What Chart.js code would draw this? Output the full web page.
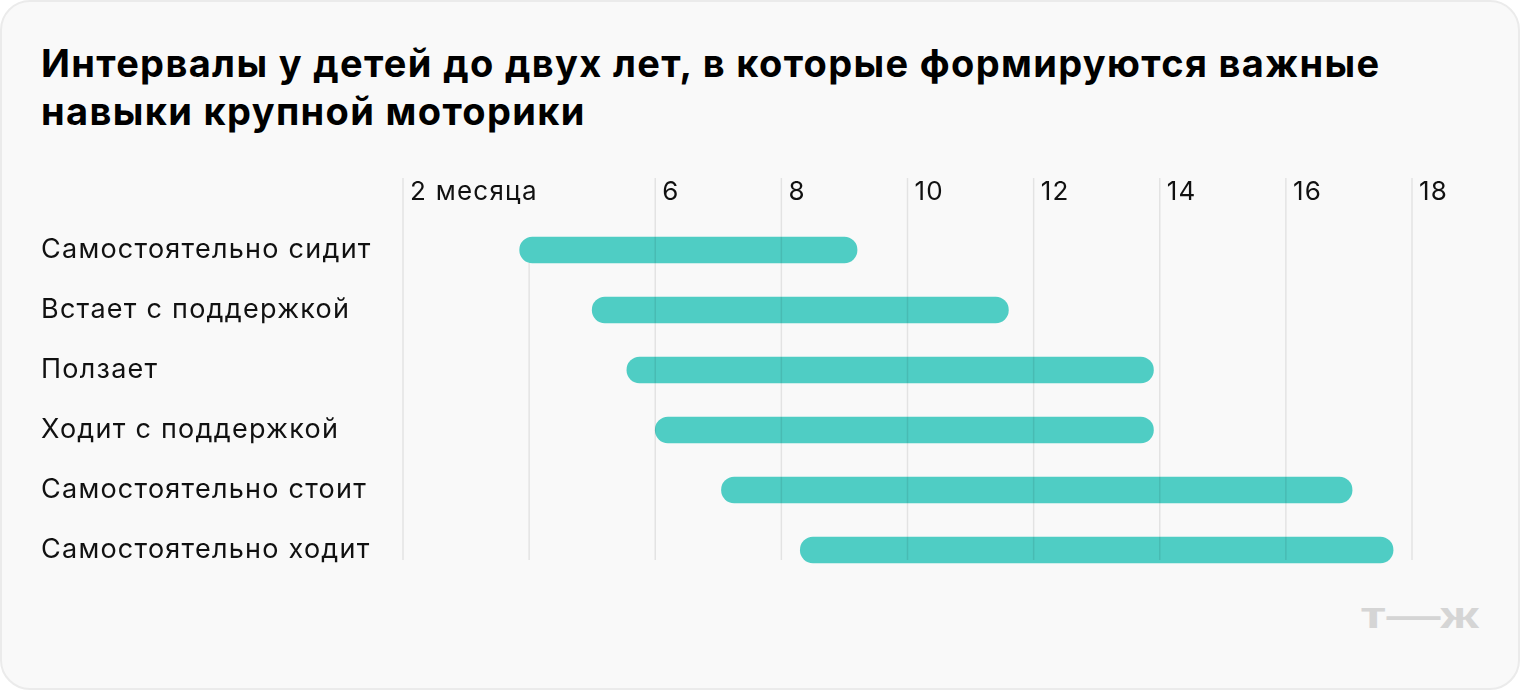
<!DOCTYPE html>
<html lang="ru">
<head>
<meta charset="utf-8">
<script src="https://cdn.jsdelivr.net/npm/chart.js@4.4.1/dist/chart.umd.min.js"></script>
<style>
  html, body { margin: 0; padding: 0; background: #fff; }
  body { width: 1520px; height: 690px; position: relative; overflow: hidden; font-family: Inter, 'Noto Sans', sans-serif; }
  .card {
    position: absolute; left: 0; top: 0; width: 1520px; height: 690px;
    box-sizing: border-box; border: 2px solid #ebebeb; border-radius: 30px; background: #f9f9f9;
  }
  .title {
    position: absolute; left: 41px; top: 39px; margin: 0; white-space: nowrap;
    font-size: 38px; line-height: 48px; font-weight: 700; color: #000; letter-spacing: 1.35px;
  }
  .logo {
    position: absolute; left: 1360px; top: 597px; font-size: 36px; line-height: 38px;
    font-weight: 800; color: #d5d5d5; transform: scaleX(1.5); transform-origin: left center;
    font-family: 'Liberation Sans', Arial, sans-serif;
  }
  #chart { position: absolute; left: 0; top: 0; }
</style>
</head>
<body>
<div class="card"></div>
<h1 class="title">Интервалы у детей до двух лет, в которые формируются важные<br>навыки крупной моторики</h1>
<div class="logo">т—ж</div>
<canvas id="chart" width="1520" height="690"></canvas>

<script>
// ===== DATA =====
const skills = [
  'Самостоятельно сидит',
  'Встает с поддержкой',
  'Ползает',
  'Ходит с поддержкой',
  'Самостоятельно стоит',
  'Самостоятельно ходит',
];
// age in months when the skill interval starts / ends
const startMonth = [3.85, 5.0, 5.55, 6.0, 7.05, 8.3];
const endMonth   = [9.2, 11.6, 13.9, 13.9, 17.05, 17.7];

const tickValues = [2, 4, 6, 8, 10, 12, 14, 16, 18];
const tickLabels = ['2 месяца', '', '6', '8', '10', '12', '14', '16', '18'];

// ===== STYLE =====
const TEAL = '#4fcdc4';
const TEXT = '#111';
const GRID = 'rgba(0,0,0,0.085)';
const FONT = 'Inter, "Noto Sans", sans-serif';

// wider tracking like the original typeface
const tracking = {
  id: 'tracking',
  beforeDraw(chart) { chart.ctx.letterSpacing = '1.25px'; }
};

// gridlines + month labels on top of the bars
const monthGrid = {
  id: 'monthGrid',
  afterDatasetsDraw(chart) {
    const { ctx, chartArea, scales: { x } } = chart;
    const first = chart.getDatasetMeta(0).data[0];
    ctx.save();
    ctx.strokeStyle = GRID;
    ctx.lineWidth = 1.5;
    tickValues.forEach((v, i) => {
      const px = x.getPixelForValue(v);
      const top = tickLabels[i] ? chartArea.top - 42 : first.y + first.height / 2;
      ctx.beginPath();
      ctx.moveTo(px, top);
      ctx.lineTo(px, chartArea.bottom - 20);
      ctx.stroke();
    });
    ctx.fillStyle = TEXT;
    ctx.font = `26px ${FONT}`;
    ctx.textAlign = 'left';
    ctx.textBaseline = 'alphabetic';
    tickValues.forEach((v, i) => {
      if (tickLabels[i]) ctx.fillText(tickLabels[i], x.getPixelForValue(v) + 7, chartArea.top - 20);
    });
    ctx.restore();
  }
};

new Chart(document.getElementById('chart'), {
  type: 'bar',
  data: {
    labels: skills,
    datasets: [{
      data: skills.map((_, i) => [startMonth[i], endMonth[i]]),
      backgroundColor: TEAL,
      borderWidth: 0,
      borderRadius: 13,
      borderSkipped: false,
      barThickness: 26,
    }],
  },
  options: {
    indexAxis: 'y',
    responsive: false,
    animation: false,
    devicePixelRatio: 1,
    layout: { padding: { left: 41, right: 108, top: 220, bottom: 110 } },
    plugins: { legend: { display: false }, tooltip: { enabled: false } },
    scales: {
      x: { type: 'linear', min: 2, max: 18, display: false },
      y: {
        grid: { display: false },
        border: { display: false },
        ticks: {
          color: TEXT,
          font: { family: FONT, size: 27 },
          crossAlign: 'far',
          padding: 0,
        },
        afterFit: s => { s.width = 362; },
      },
    },
  },
  plugins: [tracking, monthGrid],
});
</script>
</body>
</html>
